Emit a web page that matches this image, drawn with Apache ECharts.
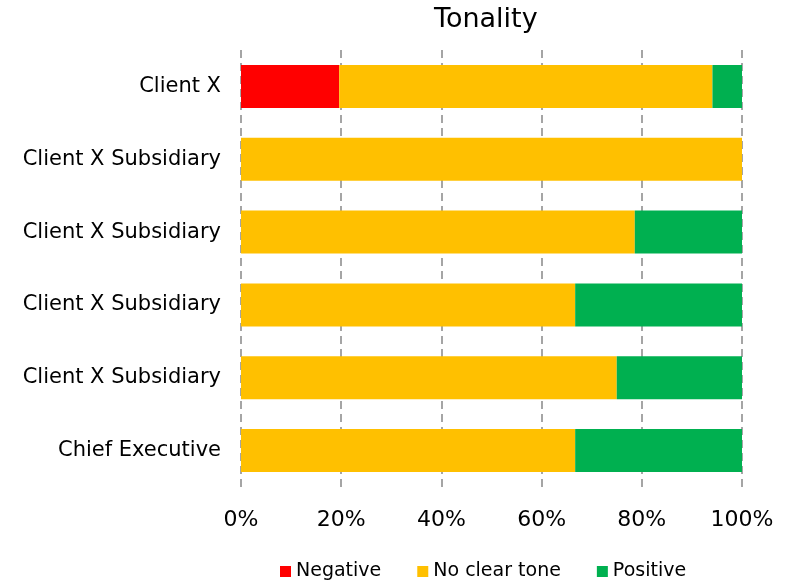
<!DOCTYPE html>
<html>
<head>
<meta charset="utf-8">
<script src="https://cdn.jsdelivr.net/npm/echarts@6/dist/echarts.min.js"></script>
<style>
  html, body { margin: 0; padding: 0; background: #fff; }
  #chart { width: 788px; height: 583px; }
</style>
</head>
<body>
<div id="chart"></div>
<script>
// Categories listed bottom-to-top (ECharts category y-axis starts at the bottom)
const categories = ['Chief Executive', 'Client X Subsidiary', 'Client X Subsidiary', 'Client X Subsidiary', 'Client X Subsidiary', 'Client X'];
const negative = [0, 0, 0, 0, 0, 19.6];
const noClearTone = [66.7, 75, 66.7, 78.6, 100, 74.5];
const positive = [33.3, 25, 33.3, 21.4, 0, 5.9];
const tickLabels = ['0%', '20%', '40%', '60%', '80%', '100%'];

const FONT = 'DejaVu Sans, Verdana, sans-serif';

const chart = echarts.init(document.getElementById('chart'), null, { renderer: 'canvas' });

function barSeries(name, data, color) {
  return {
    name: name,
    type: 'bar',
    stack: 'tone',
    data: data,
    barWidth: '59%',
    itemStyle: { color: color },
    emphasis: { disabled: true }
  };
}

chart.setOption({
  animation: false,
  backgroundColor: '#ffffff',
  title: {
    text: 'Tonality',
    left: 429,
    top: 1,
    textStyle: { fontFamily: FONT, fontSize: 27, fontWeight: 'normal', color: '#000' }
  },
  legend: {
    data: ['Negative', 'No clear tone', 'Positive'],
    left: 275,
    top: 557,
    itemWidth: 11,
    itemHeight: 11,
    itemGap: 36,
    icon: 'rect',
    textStyle: { fontFamily: FONT, fontSize: 19, color: '#000' }
  },
  grid: { left: 241, right: 46, top: 50, bottom: 96, containLabel: false },
  xAxis: {
    type: 'value',
    min: 0,
    max: 100,
    interval: 20,
    axisLine: { show: false },
    axisTick: { show: false },
    axisLabel: {
      margin: 22,
      fontFamily: FONT,
      fontSize: 22,
      color: '#000',
      formatter: function (v) { return tickLabels[Math.round(v / 20)]; }
    },
    splitLine: {
      show: true,
      lineStyle: { color: '#888888', width: 1.5, type: [8, 5] }
    }
  },
  yAxis: {
    type: 'category',
    data: categories,
    axisLine: { show: false },
    axisTick: { show: false },
    axisLabel: { margin: 20, fontFamily: FONT, fontSize: 21, color: '#000', padding: [6, 0, 0, 0] },
    splitLine: { show: false }
  },
  series: [
    barSeries('Negative', negative, '#ff0000'),
    barSeries('No clear tone', noClearTone, '#ffc000'),
    barSeries('Positive', positive, '#00b050')
  ]
});
</script>
</body>
</html>
